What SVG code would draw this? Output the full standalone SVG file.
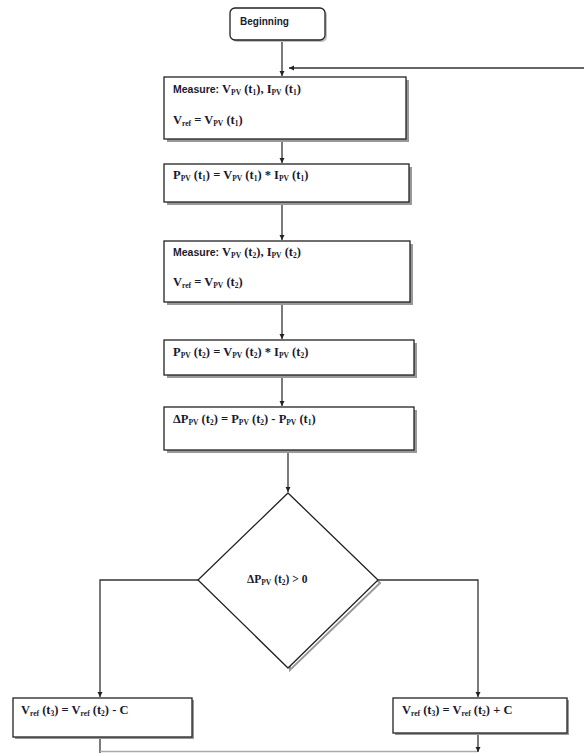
<svg xmlns="http://www.w3.org/2000/svg" width="584" height="753" viewBox="0 0 584 753">
<defs>
<marker id="ah" markerWidth="6" markerHeight="6" refX="5" refY="3" orient="auto" markerUnits="userSpaceOnUse">
<path d="M0,0.5 L5,3 L0,5.5 Z" fill="#222"/>
</marker>
<style>
.box{fill:#fff;stroke:#222;stroke-width:1.3}
.sh{fill:#999}
.ln{fill:none;stroke:#333;stroke-width:1.3}
.t{font-family:"Liberation Serif",serif;font-weight:bold;font-size:12.5px;fill:#1a1a2e}
.s{font-family:"Liberation Sans",sans-serif;font-weight:bold;font-size:10.5px;fill:#1a1a2e}
.sub{font-size:7.5px}
</style>
</defs>
<rect width="584" height="753" fill="#fff"/>
<g id="connectors">
<line class="ln" x1="282" y1="42" x2="282" y2="76" marker-end="url(#ah)"/>
<line class="ln" x1="584" y1="68" x2="289" y2="68" marker-end="url(#ah)"/>
<line class="ln" x1="282" y1="140" x2="282" y2="163" marker-end="url(#ah)"/>
<line class="ln" x1="282" y1="204" x2="282" y2="240" marker-end="url(#ah)"/>
<line class="ln" x1="282" y1="304" x2="282" y2="339" marker-end="url(#ah)"/>
<line class="ln" x1="282" y1="377" x2="282" y2="406" marker-end="url(#ah)"/>
<line class="ln" x1="288" y1="453" x2="288" y2="492" marker-end="url(#ah)"/>
<polyline class="ln" points="198,580 100,580 100,697" marker-end="url(#ah)"/>
<polyline class="ln" points="378,580 478,580 478,697" marker-end="url(#ah)"/>
<line class="ln" x1="100" y1="738" x2="100" y2="753"/>
<line x1="100" y1="751.5" x2="478" y2="751.5" stroke="#aaa" stroke-width="1.3"/>
<line class="ln" x1="478" y1="734" x2="478" y2="752" marker-end="url(#ah)"/>
</g>
<g id="beginning">
<rect x="232" y="10" width="95" height="32" rx="5" fill="#999" opacity="0.6"/>
<rect x="230" y="8" width="95" height="32" rx="5" class="box"/>
<text x="240" y="25" class="s" style="font-size:10px">Beginning</text>
</g>
<g id="measure1">
<rect x="167" y="80" width="242" height="62" class="sh"/>
<rect x="164" y="77" width="242" height="62" class="box"/>
<text x="173" y="93" class="t"><tspan class="s">Measure:</tspan> V<tspan class="sub" dy="2">PV</tspan><tspan dy="-2"> (t</tspan><tspan class="sub" dy="2">1</tspan><tspan dy="-2">), I</tspan><tspan class="sub" dy="2">PV</tspan><tspan dy="-2"> (t</tspan><tspan class="sub" dy="2">1</tspan><tspan dy="-2">)</tspan></text>
<text x="173" y="124" class="t">V<tspan class="sub" dy="2">ref</tspan><tspan dy="-2"> = V</tspan><tspan class="sub" dy="2">PV</tspan><tspan dy="-2"> (t</tspan><tspan class="sub" dy="2">1</tspan><tspan dy="-2">)</tspan></text>
</g>
<g id="power1">
<rect x="167" y="167" width="245" height="38" class="sh"/>
<rect x="164" y="164" width="245" height="38" class="box"/>
<text x="173" y="179" class="t">P<tspan class="sub" dy="2">PV</tspan><tspan dy="-2"> (t</tspan><tspan class="sub" dy="2">1</tspan><tspan dy="-2">) = V</tspan><tspan class="sub" dy="2">PV</tspan><tspan dy="-2"> (t</tspan><tspan class="sub" dy="2">1</tspan><tspan dy="-2">) * I</tspan><tspan class="sub" dy="2">PV</tspan><tspan dy="-2"> (t</tspan><tspan class="sub" dy="2">1</tspan><tspan dy="-2">)</tspan></text>
</g>
<g id="measure2">
<rect x="167" y="244" width="246" height="61" class="sh"/>
<rect x="164" y="241" width="246" height="61" class="box"/>
<text x="173" y="256" class="t"><tspan class="s">Measure:</tspan> V<tspan class="sub" dy="2">PV</tspan><tspan dy="-2"> (t</tspan><tspan class="sub" dy="2">2</tspan><tspan dy="-2">), I</tspan><tspan class="sub" dy="2">PV</tspan><tspan dy="-2"> (t</tspan><tspan class="sub" dy="2">2</tspan><tspan dy="-2">)</tspan></text>
<text x="173" y="286" class="t">V<tspan class="sub" dy="2">ref</tspan><tspan dy="-2"> = V</tspan><tspan class="sub" dy="2">PV</tspan><tspan dy="-2"> (t</tspan><tspan class="sub" dy="2">2</tspan><tspan dy="-2">)</tspan></text>
</g>
<g id="power2">
<rect x="167" y="343" width="250" height="35" class="sh"/>
<rect x="164" y="340" width="250" height="35" class="box"/>
<text x="173" y="356" class="t">P<tspan class="sub" dy="2">PV</tspan><tspan dy="-2"> (t</tspan><tspan class="sub" dy="2">2</tspan><tspan dy="-2">) = V</tspan><tspan class="sub" dy="2">PV</tspan><tspan dy="-2"> (t</tspan><tspan class="sub" dy="2">2</tspan><tspan dy="-2">) * I</tspan><tspan class="sub" dy="2">PV</tspan><tspan dy="-2"> (t</tspan><tspan class="sub" dy="2">2</tspan><tspan dy="-2">)</tspan></text>
</g>
<g id="delta">
<rect x="167" y="410" width="250" height="43" class="sh"/>
<rect x="164" y="407" width="250" height="43" class="box"/>
<text x="173" y="423" class="t">ΔP<tspan class="sub" dy="2">PV</tspan><tspan dy="-2"> (t</tspan><tspan class="sub" dy="2">2</tspan><tspan dy="-2">) = P</tspan><tspan class="sub" dy="2">PV</tspan><tspan dy="-2"> (t</tspan><tspan class="sub" dy="2">2</tspan><tspan dy="-2">) - P</tspan><tspan class="sub" dy="2">PV</tspan><tspan dy="-2"> (t</tspan><tspan class="sub" dy="2">1</tspan><tspan dy="-2">)</tspan></text>
</g>
<g id="decision">
<polygon points="290,496 380,583 290,670" fill="none" stroke="#999" stroke-width="2"/>
<polygon points="288,493 378,580 288,668 198,580" class="box"/>
<text x="247" y="583" class="t" style="font-size:11.5px">ΔP<tspan class="sub" dy="2">PV</tspan><tspan dy="-2"> (t</tspan><tspan class="sub" dy="2">2</tspan><tspan dy="-2">) &gt; 0</tspan></text>
</g>
<g id="decrease">
<rect x="15" y="700" width="179" height="39" class="sh"/>
<rect x="13" y="698" width="179" height="39" class="box"/>
<text x="21" y="714" class="t">V<tspan class="sub" dy="2">ref</tspan><tspan dy="-2"> (t</tspan><tspan class="sub" dy="2">3</tspan><tspan dy="-2">) = V</tspan><tspan class="sub" dy="2">ref</tspan><tspan dy="-2"> (t</tspan><tspan class="sub" dy="2">2</tspan><tspan dy="-2">) - C</tspan></text>
</g>
<g id="increase">
<rect x="395" y="700" width="174" height="35" class="sh"/>
<rect x="393" y="698" width="174" height="35" class="box"/>
<text x="402" y="714" class="t">V<tspan class="sub" dy="2">ref</tspan><tspan dy="-2"> (t</tspan><tspan class="sub" dy="2">3</tspan><tspan dy="-2">) = V</tspan><tspan class="sub" dy="2">ref</tspan><tspan dy="-2"> (t</tspan><tspan class="sub" dy="2">2</tspan><tspan dy="-2">) + C</tspan></text>
</g>
</svg>
